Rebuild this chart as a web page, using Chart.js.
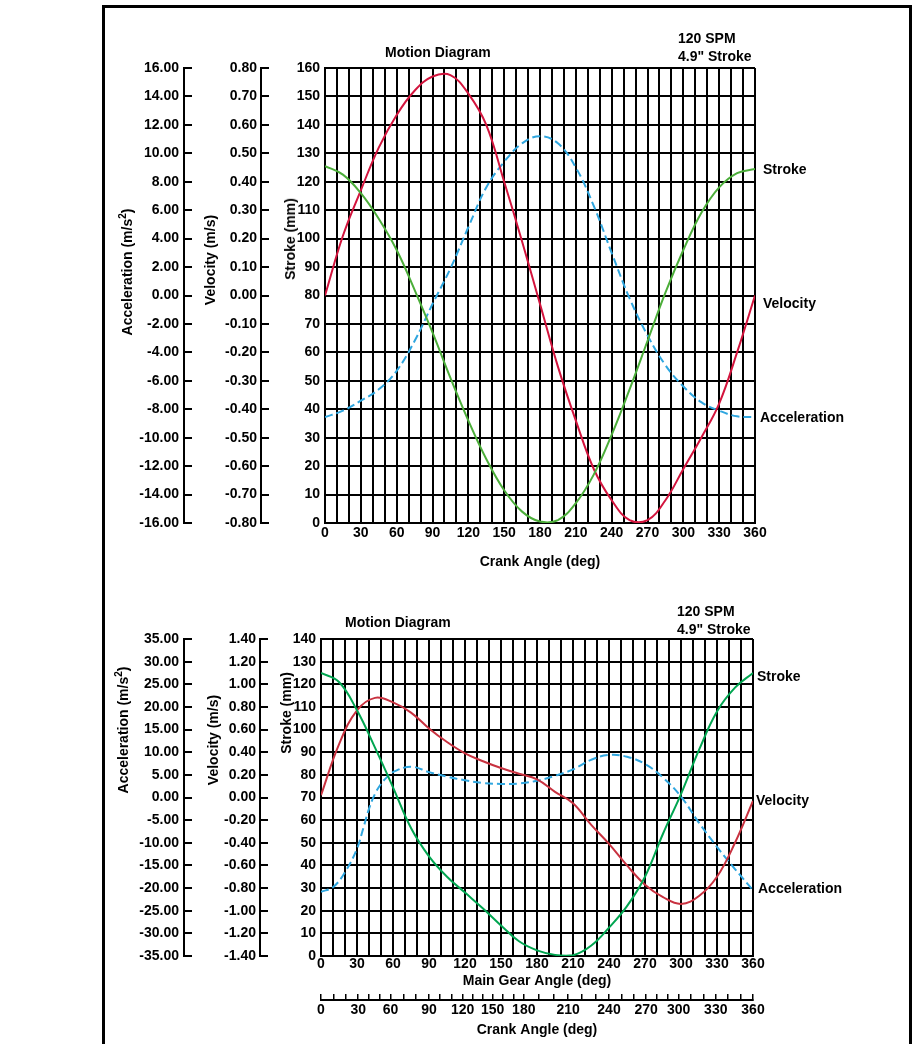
<!DOCTYPE html>
<html lang="en">
<head>
  <meta charset="UTF-8">
  <title>Motion Diagram</title>
  <style>
    body {
      margin: 0;
      background: white;
      font-family: 'Liberation Sans', Arial, sans-serif;
    }
    #page {
      position: relative;
      width: 912px;
      height: 1044px;
      overflow: hidden;
    }
    .frame {
      position: absolute;
      left: 102px;
      top: 5px;
      width: 804px;
      height: 1100px;
      border: 3px solid black;
    }
    canvas {
      position: absolute;
      left: 100px;
    }
    .txt {
      position: absolute;
      font: bold 14px 'Liberation Sans', Arial, sans-serif;
      line-height: 16px;
      white-space: nowrap;
      color: black;
    }
    .vtitle {
      position: absolute;
      font: bold 14px 'Liberation Sans', Arial, sans-serif;
      line-height: 16px;
      white-space: nowrap;
      transform: translate(-50%, -50%) rotate(-90deg);
    }
  </style>
</head>
<body>
<div id="page">
  <div class="frame"></div>
  <canvas id="chartTop" width="812" height="580" style="top:0"></canvas>
  <canvas id="chartBottom" width="812" height="464" style="top:580px"></canvas>

  <!-- top chart texts -->
  <div class="txt" style="left:385px;top:44px">Motion Diagram</div>
  <div class="txt" style="left:678px;top:30px">120 SPM</div>
  <div class="txt" style="left:678px;top:48px">4.9" Stroke</div>
  <div class="txt" style="left:763px;top:161px">Stroke</div>
  <div class="txt" style="left:763px;top:295px">Velocity</div>
  <div class="txt" style="left:760px;top:409px">Acceleration</div>
  <div class="vtitle" style="left:127px;top:272px">Acceleration (m/s<sup style="font-size:10px;line-height:0">2</sup>)</div>
  <div class="vtitle" style="left:210px;top:260px">Velocity (m/s)</div>
  <div class="vtitle" style="left:290px;top:239px">Stroke (mm)</div>

  <!-- bottom chart texts -->
  <div class="txt" style="left:345px;top:614px">Motion Diagram</div>
  <div class="txt" style="left:677px;top:603px">120 SPM</div>
  <div class="txt" style="left:677px;top:621px">4.9" Stroke</div>
  <div class="txt" style="left:757px;top:668px">Stroke</div>
  <div class="txt" style="left:756px;top:792px">Velocity</div>
  <div class="txt" style="left:758px;top:880px">Acceleration</div>
  <div class="vtitle" style="left:123px;top:730px">Acceleration (m/s<sup style="font-size:10px;line-height:0">2</sup>)</div>
  <div class="vtitle" style="left:213px;top:740px">Velocity (m/s)</div>
  <div class="vtitle" style="left:286px;top:713px">Stroke (mm)</div>
</div>

<script src="https://cdn.jsdelivr.net/npm/chart.js"></script>
<script>
  // top chart: crank angle (deg)
  const anglesTop = [0, 15, 30, 45, 60, 75, 90, 105, 120, 135, 150, 165, 180,
    195, 210, 225, 240, 255, 270, 285, 300, 315, 330, 345, 360];
  const strokeTop = [125.5, 122.5, 116, 107, 96, 82, 67, 51, 36, 22.5, 11.5, 4, 0.5,
    1, 7, 17, 31, 47, 64, 81, 96, 109, 118, 123, 124.5];
  const velocityTop = [0, 0.21, 0.37, 0.52, 0.635, 0.72, 0.77, 0.775, 0.71, 0.6, 0.4, 0.19, -0.03,
    -0.25, -0.44, -0.61, -0.72, -0.79, -0.79, -0.72, -0.61, -0.5, -0.38, -0.2, 0];
  const accelTop = [-8.55, -8.1, -7.4, -6.6, -5.3, -3.2, -0.6, 1.9, 4.8, 7.6, 9.4, 10.7, 11.2,
    10.7, 9.0, 6.3, 3.0, -0.2, -2.8, -4.9, -6.4, -7.5, -8.1, -8.5, -8.55];

  // bottom chart: main gear angle (deg)
  const anglesBottom = [0, 15, 30, 45, 60, 75, 90, 105, 120, 135, 150, 165, 180,
    195, 210, 225, 240, 255, 270, 285, 300, 315, 330, 345, 360];
  const strokeBottom = [125, 121, 108.5, 92, 74.5, 56.5, 44, 35, 28, 21, 13.5, 6.5, 2.5,
    0.5, 0.3, 4.5, 12.5, 22, 35, 54, 71.5, 91, 108, 118.5, 125];
  const velocityBottom = [0.02, 0.47, 0.77, 0.88, 0.84, 0.75, 0.61, 0.49, 0.39, 0.32, 0.26, 0.21, 0.16,
    0.05, -0.05, -0.24, -0.41, -0.6, -0.77, -0.88, -0.94, -0.87, -0.7, -0.4, -0.03];
  const accelAnglesBottom = [0, 10, 20, 30, 35, 40, 45, 50, 55, 60, 75, 90, 105, 120, 135, 150,
    165, 180, 195, 210, 225, 240, 255, 270, 285, 300, 315, 330, 345, 360];
  const accelBottom = [-20.8, -19.8, -16.5, -11.3, -7, -2.5, 0.8, 3.0, 4.5, 5.6, 6.8, 5.6, 4.6, 3.8, 3.2, 3.0,
    3.1, 3.7, 4.8, 6.2, 8.3, 9.4, 9.0, 7.4, 4.4, 0.2, -5.6, -10.9, -15.8, -20.5];

  // crank angle scale under the bottom chart
  const crankLabels = [0, 30, 60, 90, 120, 150, 180, 210, 240, 270, 300, 330, 360];
  const crankAtGear = [0, 31, 58, 90, 118, 143, 169, 206, 240, 271, 298, 329, 360];

  Chart.defaults.font.family = "'Liberation Sans', Arial, sans-serif";
  Chart.defaults.font.size = 14;
  Chart.defaults.font.weight = 'bold';
  Chart.defaults.color = 'black';

  const pairs = (xs, ys) => xs.map((x, i) => ({ x: x, y: ys[i] }));

  function sideAxis(weight, min, max, step, width, pad, digits) {
    return {
      type: 'linear',
      position: 'left',
      weight: weight,
      min: min,
      max: max,
      ticks: {
        stepSize: step,
        padding: pad,
        callback: v => v.toFixed(digits)
      },
      grid: {
        drawOnChartArea: false,
        color: 'black',
        lineWidth: 2,
        tickLength: -8
      },
      border: { color: 'black', width: 2 },
      afterFit: s => { s.width = width; s.paddingTop = 0; s.paddingBottom = 0; }
    };
  }

  function strokeAxis(max, width) {
    return {
      type: 'linear',
      position: 'left',
      weight: 0,
      min: 0,
      max: max,
      ticks: { stepSize: 10, padding: 5 },
      grid: { color: 'black', lineWidth: 2, drawTicks: false },
      border: { color: 'black', width: 2 },
      afterFit: s => { s.width = width; s.paddingTop = 0; s.paddingBottom = 0; }
    };
  }

  function angleAxis(title, height, labelPad, titlePad) {
    return {
      type: 'linear',
      position: 'bottom',
      weight: 0,
      min: 0,
      max: 360,
      ticks: {
        stepSize: 10,
        autoSkip: false,
        maxRotation: 0,
        padding: labelPad,
        callback: v => (v % 30 === 0 ? v : '')
      },
      grid: { color: 'black', lineWidth: 2, drawTicks: false },
      border: { color: 'black', width: 2 },
      title: { display: true, text: title, padding: { top: 0, bottom: titlePad } },
      afterFit: s => { s.height = height; s.paddingLeft = 0; s.paddingRight = 0; }
    };
  }

  const common = {
    responsive: false,
    animation: false,
    plugins: { legend: { display: false }, tooltip: { enabled: false } },
    elements: { point: { radius: 0 }, line: { tension: 0.4, borderWidth: 2 } }
  };

  new Chart(document.getElementById('chartTop'), {
    type: 'line',
    data: {
      datasets: [
        { label: 'Stroke', data: pairs(anglesTop, strokeTop), yAxisID: 's', borderColor: '#4cae3a' },
        { label: 'Velocity', data: pairs(anglesTop, velocityTop), yAxisID: 'v', borderColor: '#d3143d' },
        { label: 'Acceleration', data: pairs(anglesTop, accelTop), yAxisID: 'a', borderColor: '#2fa6df', borderDash: [8, 4] }
      ]
    },
    options: {
      ...common,
      layout: { padding: { left: 0, top: 68, right: 157, bottom: 7 } },
      scales: {
        x: angleAxis('Crank Angle (deg)', 50, 2, 2),
        a: sideAxis(2, -16, 16, 2, 84, 13, 2),
        v: sideAxis(1, -0.8, 0.8, 0.1, 77, 12, 2),
        s: strokeAxis(160, 64)
      }
    }
  });

  // major crank ticks plus two small ticks in each 30 deg step
  function crankTicks() {
    const out = [];
    crankAtGear.forEach((g, i) => {
      out.push({ value: g });
      const next = crankAtGear[i + 1];
      if (next !== undefined) {
        out.push({ value: g + (next - g) / 3 });
        out.push({ value: g + 2 * (next - g) / 3 });
      }
    });
    return out;
  }

  const crankAxis = {
    type: 'linear',
    position: 'bottom',
    weight: 1,
    min: 0,
    max: 360,
    afterBuildTicks: s => { s.ticks = crankTicks(); },
    ticks: {
      autoSkip: false,
      maxRotation: 0,
      padding: 8,
      callback: v => {
        const i = crankAtGear.indexOf(v);
        return i >= 0 ? crankLabels[i] : '';
      }
    },
    grid: { drawOnChartArea: false, color: 'black', lineWidth: 1.5, tickLength: -6 },
    border: { color: 'black', width: 2 },
    title: { display: true, text: 'Crank Angle (deg)', padding: { top: 0, bottom: 1 } },
    afterFit: s => { s.height = 40; s.paddingLeft = 0; s.paddingRight = 0; }
  };

  new Chart(document.getElementById('chartBottom'), {
    type: 'line',
    data: {
      datasets: [
        { label: 'Stroke', data: pairs(anglesBottom, strokeBottom), yAxisID: 's', borderColor: '#00a550' },
        { label: 'Velocity', data: pairs(anglesBottom, velocityBottom), yAxisID: 'v', borderColor: '#c8313f' },
        { label: 'Acceleration', data: pairs(accelAnglesBottom, accelBottom), yAxisID: 'a', borderColor: '#2fa6df', borderDash: [8, 4] }
      ]
    },
    options: {
      ...common,
      layout: { padding: { left: 0, top: 59, right: 159, bottom: 4 } },
      scales: {
        x: angleAxis('Main Gear Angle (deg)', 44, 0, 10),
        x2: crankAxis,
        a: sideAxis(2, -35, 35, 5, 84, 13, 2),
        v: sideAxis(1, -1.4, 1.4, 0.2, 76, 12, 2),
        s: strokeAxis(140, 61)
      }
    }
  });
</script>
</body>
</html>
